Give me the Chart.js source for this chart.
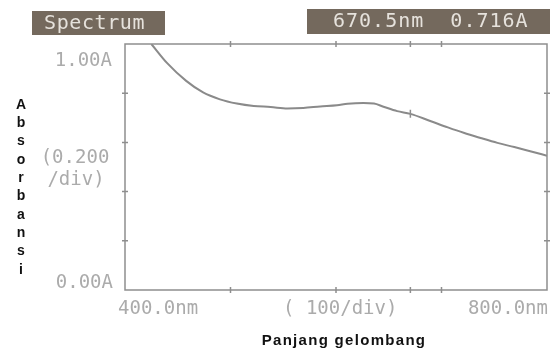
<!DOCTYPE html>
<html>
<head>
<meta charset="utf-8">
<script src="https://cdn.jsdelivr.net/npm/chart.js@4/dist/chart.umd.min.js"></script>
<style>
  html, body { margin: 0; padding: 0; background: #fff; }
  #wrap { width: 554px; height: 352px; position: relative; }
</style>
</head>
<body>
<div id="wrap"><canvas id="spectrumChart" width="554" height="352"></canvas></div>
<script>
// Spectrum data (nm / absorbance)
const wavelengths = [425, 440, 458, 474, 490, 506, 522, 538, 554, 569, 585, 601, 611, 626, 636, 645, 658, 670.5, 690, 706, 721, 737, 753, 769, 785, 800];
const absorbance = [1.0, 0.922, 0.850, 0.803, 0.775, 0.758, 0.748, 0.744, 0.738, 0.740, 0.746, 0.751, 0.757, 0.760, 0.758, 0.745, 0.727, 0.716, 0.686, 0.661, 0.639, 0.618, 0.598, 0.581, 0.563, 0.546];

// cursor readout
const cursorNm = 670.5;
const cursorAbs = 0.716;

// tick positions (divisions)
const xTicks = [500, 600, 700];
const yTicks = [0.2, 0.4, 0.6, 0.8];

const colors = {
  frame: '#8e8e8e',
  curve: '#8a8a8a',
  label: '#ababab',
  box: '#74695d',
  boxText: '#e6e2dc',
  title: '#111'
};

const monoFont = '"DejaVu Sans Mono", "Liberation Mono", monospace';

// draws the instrument style frame, labels and readout
const spectrumDecor = {
  id: 'spectrumDecor',
  afterDraw(chart) {
    const ctx = chart.ctx;
    const xs = chart.scales.x;
    const ys = chart.scales.y;
    const a = chart.chartArea;
    ctx.save();

    // frame
    ctx.strokeStyle = colors.frame;
    ctx.lineWidth = 1.5;
    ctx.strokeRect(a.left, a.top, a.right - a.left, a.bottom - a.top);

    // tick marks crossing the frame
    ctx.beginPath();
    xTicks.concat([cursorNm]).forEach(v => {
      const px = xs.getPixelForValue(v);
      ctx.moveTo(px, a.top - 3); ctx.lineTo(px, a.top + 3);
      ctx.moveTo(px, a.bottom - 3); ctx.lineTo(px, a.bottom + 3);
    });
    yTicks.forEach(v => {
      const py = ys.getPixelForValue(v);
      ctx.moveTo(a.left - 3, py); ctx.lineTo(a.left + 3, py);
      ctx.moveTo(a.right - 3, py); ctx.lineTo(a.right + 3, py);
    });
    // cursor mark on the curve
    const cx = xs.getPixelForValue(cursorNm);
    const cy = ys.getPixelForValue(cursorAbs);
    ctx.moveTo(cx, cy - 4); ctx.lineTo(cx, cy + 4);
    ctx.stroke();

    // axis readouts
    ctx.fillStyle = colors.label;
    ctx.font = '19px ' + monoFont;
    ctx.textBaseline = 'middle';
    ctx.textAlign = 'right';
    ctx.fillText('1.00A', a.left - 13, ys.getPixelForValue(1) + 17);
    ctx.fillText('0.00A', a.left - 12, ys.getPixelForValue(0) - 7);
    ctx.textAlign = 'center';
    ctx.fillText('(0.200', 75, 158);
    ctx.fillText('/div)', 76, 180);
    ctx.textBaseline = 'alphabetic';
    ctx.textAlign = 'left';
    ctx.fillText('400.0nm', a.left - 7, a.bottom + 24);
    ctx.textAlign = 'center';
    ctx.fillText('( 100/div)', xs.getPixelForValue(604), a.bottom + 24);
    ctx.textAlign = 'right';
    ctx.fillText('800.0nm', a.right + 1, a.bottom + 24);

    // header boxes
    ctx.fillStyle = colors.box;
    ctx.fillRect(32, 11, 133, 24);
    ctx.fillRect(307, 9, 243, 25);
    ctx.fillStyle = colors.boxText;
    ctx.font = '20px ' + monoFont;
    ctx.textAlign = 'left';
    ctx.textBaseline = 'middle';
    ctx.letterSpacing = '0.6px';
    ctx.fillText('Spectrum', 44, 24);
    ctx.letterSpacing = '1px';
    ctx.fillText(cursorNm.toFixed(1) + 'nm  ' + cursorAbs.toFixed(3) + 'A', 333, 22);
    ctx.letterSpacing = '0px';

    // axis titles
    ctx.fillStyle = colors.title;
    ctx.font = 'bold 15px "Liberation Sans", Arial, sans-serif';
    ctx.textAlign = 'center';
    ctx.textBaseline = 'middle';
    ctx.letterSpacing = '1.3px';
    ctx.fillText('Panjang gelombang', 344, 341);
    ctx.letterSpacing = '0px';
    ctx.font = 'bold 14px "Liberation Sans", Arial, sans-serif';
    'Absorbansi'.split('').forEach((ch, i) => {
      ctx.fillText(ch, 21, 105 + i * 18.3);
    });

    ctx.restore();
  }
};

function initSpectrumChart() {
  const ctx = document.getElementById('spectrumChart').getContext('2d');
  const points = wavelengths.map((w, i) => ({ x: w, y: absorbance[i] }));

  new Chart(ctx, {
    type: 'scatter',
    data: {
      datasets: [{
        label: 'Spectrum',
        data: points,
        showLine: true,
        borderColor: colors.curve,
        borderWidth: 2,
        pointRadius: 0,
        tension: 0.4,
        cubicInterpolationMode: 'monotone'
      }]
    },
    options: {
      responsive: false,
      animation: false,
      devicePixelRatio: 1,
      layout: {
        padding: { left: 125, top: 44, right: 7, bottom: 62 }
      },
      plugins: {
        legend: { display: false },
        tooltip: { enabled: false }
      },
      scales: {
        x: { type: 'linear', min: 400, max: 800, display: false },
        y: { min: 0, max: 1, display: false }
      }
    },
    plugins: [spectrumDecor]
  });
}

initSpectrumChart();
</script>
</body>
</html>
